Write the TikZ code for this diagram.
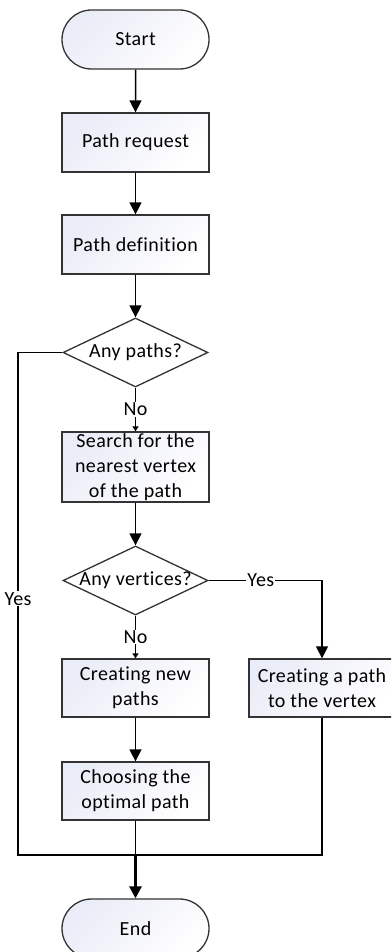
\documentclass[tikz,border=0pt]{standalone}
\usepackage{fontspec}
\setmainfont[Ligatures={NoCommon},LetterSpace=2]{Carlito}
\usetikzlibrary{arrows.meta,shapes.misc,shapes.geometric,positioning}
\definecolor{lav}{HTML}{EAECF7}
\definecolor{edge}{HTML}{333333}
\tikzset{
  txt/.style={font=\fontsize{20}{25}\selectfont, align=center},
  grad/.style={shading=axis, top color=lav, bottom color=white, shading angle=45},
  procbox/.style={txt, draw=edge, line width=1.3pt, grad, minimum width=147pt, minimum height=58pt, inner sep=0pt},
  termbox/.style={txt, draw=edge, line width=1.3pt, grad, rounded rectangle, minimum width=147pt, minimum height=59pt, inner sep=0pt},
  decbox/.style={draw=edge, line width=1.3pt, fill=white, diamond, minimum width=145pt, minimum height=69pt, inner sep=0pt},
  lbl/.style={txt, fill=white, inner sep=1pt},
  conn/.style={line width=1.5pt, draw=black},
  bigarrow/.style={conn, -{Triangle[length=12pt,width=12pt]}},
  smallarrow/.style={conn, -{Triangle[length=5pt,width=6pt]}},
}
\begin{document}
\begin{tikzpicture}[x=1pt,y=-1pt]
\clip (0,0) rectangle (391,952);
\node[termbox] (start) at (135.5,39.5) {Start};
\node[procbox, minimum height=59pt] (req) at (135.5,142.5) {Path request};
\node[procbox, minimum height=59pt] (def) at (135.5,244.5) {Path definition};
\node[decbox] (d1) at (135.5,352.5) {};
\node[txt] (d1t) at (d1) {Any paths?};
\node[procbox, minimum height=70pt] (search) at (135.5,467) {Search for the\\nearest vertex\\of the path};
\node[decbox] (d2) at (135.5,580.5) {};
\node[txt] (d2t) at (d2) {Any vertices?};
\node[procbox] (cnew) at (135.5,688) {Creating new\\paths};
\node[procbox, minimum width=146pt] (cpath) at (322,688) {Creating a path\\to the vertex};
\node[procbox] (choose) at (135.5,791) {Choosing the\\optimal path};
\node[termbox] (end) at (135.5,928.5) {End};
\coordinate (j) at (135.5,855);
\coordinate (jl) at (18,855);
\coordinate (jr) at (322,855);
\coordinate (yr) at (322,580.5);
\coordinate (yl) at (18,352.5);

\draw[bigarrow] (start) -- (req);
\draw[bigarrow] (req) -- (def);
\draw[bigarrow] (def) -- (d1);
\draw[smallarrow] (d1.south) -- node[lbl] {No} (search.north);
\draw[conn] (d1.west) -- (yl) -- node[lbl, pos=0.49] {Yes} (jl) -- (j);
\draw[bigarrow] (search) -- (d2);
\draw[smallarrow] (d2.south) -- node[lbl] {No} (cnew.north);
\draw[bigarrow] (d2.east) -- node[lbl, pos=0.46] {Yes} (yr) -- (cpath.north);
\draw[bigarrow] (cnew) -- (choose);
\draw[conn] (choose.south) -- (j);
\draw[conn] (cpath.south) -- (jr) -- (j);
\draw[conn, line width=2.5pt, -{Triangle[length=12pt,width=12pt]}] (j) -- (end.north);
\end{tikzpicture}
\end{document}
